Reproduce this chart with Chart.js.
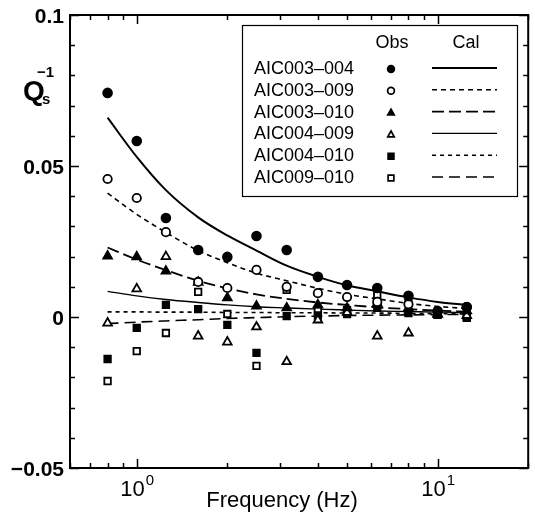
<!DOCTYPE html>
<html>
<head>
<meta charset="utf-8">
<script src="https://cdn.jsdelivr.net/npm/chart.js@4/dist/chart.umd.min.js"></script>
<style>
body{margin:0;background:#fff;}
#wrap{width:535px;height:521px;}
</style>
</head>
<body>
<div id="wrap"><canvas id="qChart" width="535" height="521"></canvas></div>
<script>
const freq = [0.8,1,1.25,1.6,2,2.5,3.15,4,5,6.3,8,10,12.5];
const pairs = ['AIC003\u2013004','AIC003\u2013009','AIC003\u2013010','AIC004\u2013009','AIC004\u2013010','AIC009\u2013010'];

// observed
const obs1 = [0.0742,0.0583,0.0328,0.0222,0.0199,0.0268,0.0222,0.0133,0.0106,0.0096,0.0070,0.0020,0.0033];
const obs2 = [0.0457,0.0394,0.0281,0.0116,0.0096,0.0156,0.0100,0.0079,0.0066,0.0050,0.0042,0.0017,0.0033];
const obs3 = [0.0202,0.0199,0.0152,0.0115,0.0063,0.0036,0.0030,0.0040,0.0030,0.0045,0.0030,0.0010,0.0020];
const obs4 = [-0.0020,0.0093,0.0200,-0.0063,-0.0083,-0.0033,-0.0148,-0.0010,0.0015,-0.0063,-0.0053,0.0010,0.0005];
const obs5 = [-0.0139,-0.0036,0.0040,0.0026,-0.0026,-0.0119,0.0003,0.0005,0.0010,0.0030,0.0013,0.0008,0.0000];
const obs6 = [-0.0212,-0.0113,-0.0053,0.0083,0.0010,-0.0162,0.0090,0.0020,0.0023,0.0073,0.0056,0.0007,-0.0003];

// calculated
const cal1 = [0.0660,0.0530,0.0420,0.0330,0.0270,0.0220,0.0170,0.0133,0.0105,0.0085,0.0065,0.0050,0.0040];
const cal2 = [0.0410,0.0340,0.0280,0.0220,0.0180,0.0145,0.0120,0.0095,0.0075,0.0060,0.0045,0.0035,0.0028];
const cal3 = [0.0230,0.0190,0.0155,0.0120,0.0095,0.0075,0.0060,0.0048,0.0040,0.0032,0.0026,0.0021,0.0018];
const cal4 = [0.0085,0.0070,0.0058,0.0048,0.0040,0.0034,0.0030,0.0026,0.0023,0.0020,0.0018,0.0016,0.0015];
const cal5 = [0.0017,0.0017,0.0016,0.0016,0.0015,0.0015,0.0014,0.0014,0.0013,0.0013,0.0012,0.0011,0.0010];
const cal6 = [-0.0022,-0.0017,-0.0013,-0.0009,-0.0005,-0.0002,0.0001,0.0003,0.0005,0.0006,0.0007,0.0008,0.0009];

const yMajor = [0.1,0.05,0,-0.05];
const yMajorText = ['0.1','0.05','0','\u22120.05'];
const xMajor = [1,10];
const xMajorExp = ['0','1'];

let obsList = [obs1,obs2,obs3,obs4,obs5,obs6];
let calList = [cal1,cal2,cal3,cal4,cal5,cal6];
let marks = [
	{style:'circle',fill:'#000',r:4.4},
	{style:'circle',fill:'#fff',r:4.2},
	{style:'triangle',fill:'#000',r:5},
	{style:'triangle',fill:'#fff',r:5},
	{style:'rect',fill:'#000',r:4.6},
	{style:'rect',fill:'#fff',r:4.6}
];
let dashes = [[],[5,4],[12,5],[],[4,4],[11,6]];
let widths = [2,1.6,1.8,1.4,1.6,1.6];
let font = (w,s)=>w+' '+s+'px "Liberation Sans", Arial, sans-serif';

let toXY = arr => arr.map((v,i)=>({x:freq[i],y:v}));

let datasets = [];
obsList.forEach((o,i)=>{
	datasets.push({
		label:pairs[i]+' obs',
		data:toXY(o),
		showLine:false,
		pointStyle:marks[i].style,
		pointRadius:marks[i].r,
		pointBackgroundColor:marks[i].fill,
		pointBorderColor:'#000',
		pointBorderWidth:1.8
	})
})
calList.forEach((c,i)=>{
	datasets.push({
		label:pairs[i]+' cal',
		data:toXY(c),
		showLine:true,
		pointRadius:0,
		borderColor:'#000',
		borderWidth:widths[i],
		borderDash:dashes[i],
		cubicInterpolationMode:'monotone',
		fill:false
	})
})

let drawMark = (ctx,m,x,y,r)=>{
	ctx.save();
	ctx.fillStyle = m.fill;
	ctx.strokeStyle = '#000';
	ctx.lineWidth = 1.7;
	ctx.beginPath();
	if(m.style==='circle'){
		ctx.arc(x,y,r,0,Math.PI*2);
	}else if(m.style==='triangle'){
		ctx.moveTo(x,y-r);
		ctx.lineTo(x+r*0.95,y+r*0.7);
		ctx.lineTo(x-r*0.95,y+r*0.7);
		ctx.closePath();
	}else{
		ctx.rect(x-r*0.85,y-r*0.85,r*1.7,r*1.7);
	}
	ctx.fill();
	ctx.stroke();
	ctx.restore();
}

let framePlugin = {
	id:'frame',
	afterDraw(chart){
		let ctx = chart.ctx;
		let a = chart.chartArea;
		let xs = chart.scales.x;
		let ys = chart.scales.y;
		ctx.save();
		ctx.strokeStyle = '#000';
		ctx.fillStyle = '#000';
		ctx.lineWidth = 2;
		ctx.strokeRect(a.left,a.top,a.right-a.left,a.bottom-a.top);

		// y ticks
		ctx.lineWidth = 1.5;
		for(let k=-5;k<=10;k++){
			let v = k/100;
			let py = Math.round(ys.getPixelForValue(v))+0.5;
			let len = (k%5===0)?9:5;
			ctx.beginPath();
			ctx.moveTo(a.left,py);ctx.lineTo(a.left+len,py);
			ctx.moveTo(a.right,py);ctx.lineTo(a.right-len,py);
			ctx.stroke();
		}
		// x ticks (log)
		for(let d=-1;d<=1;d++){
			for(let m=1;m<=9;m++){
				let v = m*Math.pow(10,d);
				if(v<xs.min||v>xs.max) continue;
				let px = Math.round(xs.getPixelForValue(v))+0.5;
				let len = (m===1)?9:5;
				ctx.beginPath();
				ctx.moveTo(px,a.bottom);ctx.lineTo(px,a.bottom-len);
				ctx.moveTo(px,a.top);ctx.lineTo(px,a.top+len);
				ctx.stroke();
			}
		}

		// y labels
		ctx.font = font('bold',21);
		ctx.textAlign = 'right';
		ctx.textBaseline = 'middle';
		yMajor.forEach((v,i)=>{
			ctx.fillText(yMajorText[i],a.left-6,ys.getPixelForValue(v)+2);
		})
		// x labels 10^n
		xMajor.forEach((v,i)=>{
			let px = xs.getPixelForValue(v);
			ctx.font = font('',22);
			ctx.textAlign = 'right';
			ctx.textBaseline = 'alphabetic';
			ctx.fillText('10',px+8,a.bottom+28);
			ctx.font = font('',15);
			ctx.textAlign = 'left';
			ctx.fillText(xMajorExp[i],px+9,a.bottom+17);
		})
		ctx.font = font('',22);
		ctx.textAlign = 'center';
		ctx.fillText('Frequency (Hz)',282,507);

		// y title
		ctx.textAlign = 'left';
		ctx.font = font('bold',28);
		ctx.fillText('Q',23,100);
		ctx.font = font('bold',15);
		ctx.fillText('s',42,104);
		ctx.fillText('\u22121',37,77);

		// legend box
		let lx=242, ly=25, lw=275, lh=171;
		ctx.fillStyle = '#fff';
		ctx.fillRect(lx,ly,lw,lh);
		ctx.lineWidth = 1.2;
		ctx.strokeRect(lx+0.5,ly+0.5,lw,lh);
		ctx.fillStyle = '#000';
		ctx.font = font('',18);
		ctx.textAlign = 'center';
		ctx.textBaseline = 'middle';
		ctx.fillText('Obs',392,43);
		ctx.fillText('Cal',466,43);
		pairs.forEach((p,i)=>{
			let ry = 68+i*21.8;
			ctx.textAlign = 'left';
			ctx.fillStyle = '#000';
			ctx.fillText(p,254,ry+1);
			drawMark(ctx,marks[i],391,ry+1,3.4);
			ctx.save();
			ctx.lineWidth = widths[i];
			ctx.setLineDash(dashes[i]);
			ctx.beginPath();
			ctx.moveTo(432,ry);ctx.lineTo(497,ry);
			ctx.stroke();
			ctx.restore();
		})
		ctx.restore();
	}
}

new Chart(document.getElementById('qChart'),{
	type:'scatter',
	data:{datasets:datasets},
	options:{
		responsive:false,
		animation:false,
		events:[],
		layout:{padding:{left:70,right:6,top:15,bottom:53}},
		plugins:{legend:{display:false},tooltip:{enabled:false}},
		scales:{
			x:{type:'logarithmic',min:0.6,max:20,display:false},
			y:{type:'linear',min:-0.05,max:0.1,display:false}
		}
	},
	plugins:[framePlugin]
});
</script>
</body>
</html>
